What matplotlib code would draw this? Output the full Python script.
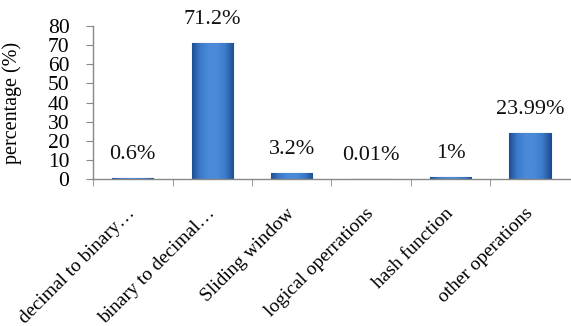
import numpy as np
import matplotlib
matplotlib.use("Agg")
import matplotlib.pyplot as plt
from matplotlib.colors import LinearSegmentedColormap

categories = ["decimal to binary\u2026", "binary to decimal\u2026", "Sliding window",
              "logical operrations", "hash function", "other operations"]
values = [0.6, 71.2, 3.2, 0.01, 1, 23.99]
labels = ["0.6%", "71.2%", "3.2%", "0.01%", "1%", "23.99%"]
yticks = [0, 10, 20, 30, 40, 50, 60, 70, 80]

plt.rcParams["font.family"] = ["Liberation Serif", "DejaVu Serif"]

fig = plt.figure(figsize=(5.71, 3.26), dpi=100)
ax = fig.add_axes([0.163, 0.451, 0.835, 0.469])

x = np.arange(len(categories))
width = 0.52
bars = ax.bar(x, values, width=width, color="#3A78C6", edgecolor="#1E4C8A",
              linewidth=0.8, zorder=2)

# bevelled look: horizontal gradient painted inside each bar
cmap = LinearSegmentedColormap.from_list(
    "bevel", ["#1F4F92", "#3D7BCB", "#4A8AD8", "#4A8AD8", "#3D7BCB", "#1F4F92"])
grad = np.linspace(0, 1, 64).reshape(1, -1)
for b in bars:
    h = b.get_height()
    if h <= 0.05:
        continue
    im = ax.imshow(grad, cmap=cmap, aspect="auto", zorder=2.5,
                   extent=[b.get_x(), b.get_x() + b.get_width(), 0, h])
    im.set_clip_path(b)

for xi, v, lab in zip(x, values, labels):
    ax.annotate(lab, (xi, v), xytext=(0, 17), textcoords="offset points",
                ha="center", va="center", fontsize=16, color="#111111",
                annotation_clip=False)

ax.set_xlim(-0.5, len(categories) - 0.5)
ax.set_ylim(0, 80)
ax.set_yticks(yticks)
ax.set_yticklabels([str(t) for t in yticks], fontsize=15.5)
ax.set_ylabel("percentage (%)", fontsize=14.5)
ax.yaxis.set_label_coords(-0.149, 0.5)

ax.set_xticks(x)
ax.set_xticklabels(categories, rotation=45, ha="right", va="center",
                   rotation_mode="anchor", fontsize=14)
ax.tick_params(axis="x", which="major", length=0, pad=23)
ax.set_xticks(np.arange(len(categories)) - 0.5, minor=True)
ax.tick_params(axis="x", which="minor", length=5, color="#888888", direction="out")
ax.tick_params(axis="y", length=5, color="#888888", direction="out", pad=12)

for s in ["top", "right"]:
    ax.spines[s].set_visible(False)
for s in ["left", "bottom"]:
    ax.spines[s].set_color("#888888")
    ax.spines[s].set_linewidth(1.0)

fig.savefig("out.png", dpi=100)
